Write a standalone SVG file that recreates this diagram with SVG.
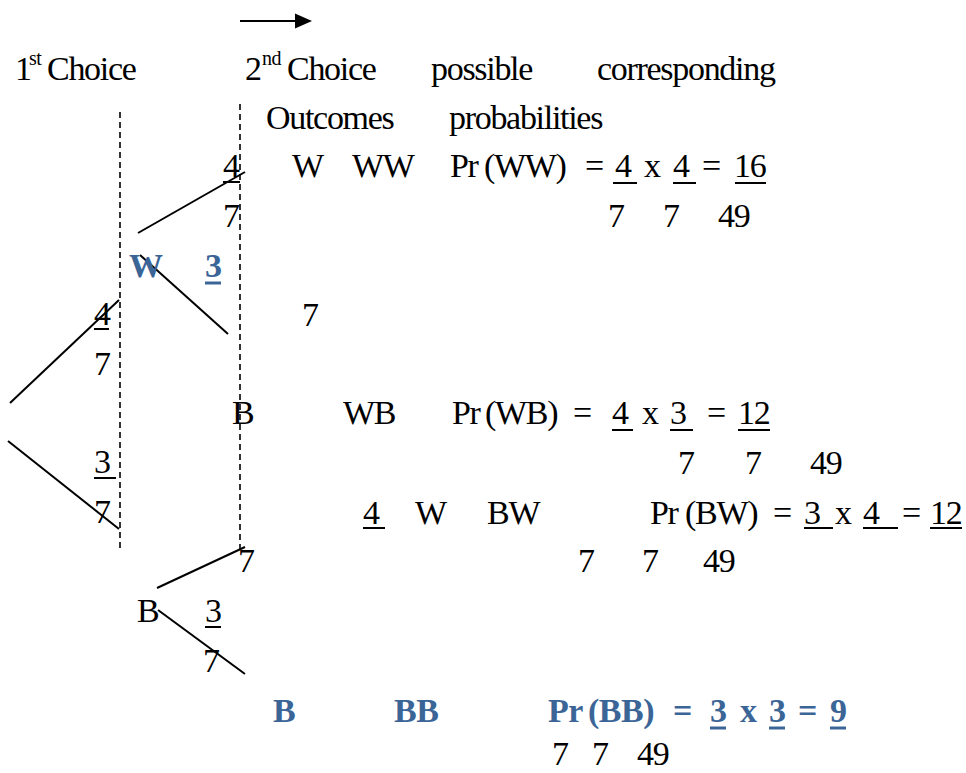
<svg xmlns="http://www.w3.org/2000/svg" width="966" height="773" viewBox="0 0 966 773">
<style>
text{font-family:"Liberation Serif","Tinos","DejaVu Serif","Times New Roman",serif;font-size:34px;letter-spacing:-1.3px;fill:#000}
.sup{font-size:20px;letter-spacing:-0.5px}
.b{font-weight:bold;fill:#3b6597;letter-spacing:-0.5px}
.ul{stroke:#000;stroke-width:2}
.ulb{stroke:#3b6597;stroke-width:3}
.br{stroke:#000;stroke-width:2;fill:none}
.dash{stroke:#000;stroke-width:1.6;stroke-dasharray:6 4;fill:none}
</style>
<rect width="966" height="773" fill="#fff"/>

<g id="headers">
<line x1="240" y1="21" x2="296" y2="21" stroke="#000" stroke-width="2"/>
<polygon points="295,13.5 312,21 295,28.5" fill="#000"/>
<text x="15" y="80">1</text><text class="sup" x="29" y="65">st</text><text x="47" y="80">Choice</text>
<text x="245" y="80">2</text><text class="sup" x="262" y="65">nd</text><text x="287" y="80">Choice</text>
<text x="431" y="80">possible</text>
<text x="597" y="80">corresponding</text>
<text x="266" y="129">Outcomes</text>
<text x="449" y="129">probabilities</text>
</g>

<g id="connectors">
<line class="dash" x1="120" y1="112" x2="120" y2="552"/>
<line class="dash" x1="240" y1="104" x2="240" y2="552"/>
<line class="br" x1="10" y1="403" x2="119" y2="300"/>
<line class="br" x1="8" y1="441" x2="119" y2="529"/>
<line class="br" x1="138" y1="233" x2="245" y2="172"/>
<line class="br" x1="140" y1="255" x2="228" y2="334"/>
<line class="br" x1="157" y1="588" x2="245" y2="547"/>
<line class="br" x1="158" y1="610" x2="245" y2="674"/>
</g>

<g id="first-branch-probs">
<text x="94" y="325">4</text><line class="ul" x1="94" y1="329" x2="109" y2="329"/>
<text x="94" y="375">7</text>
<text x="94" y="473">3</text><line class="ul" x1="94" y1="478" x2="116" y2="478"/>
<text x="94" y="523">7</text>
</g>

<g id="node-W1">
<text class="b" x="129" y="277">W</text>
<text class="b" x="205" y="277">3</text><line class="ulb" x1="205" y1="283" x2="221" y2="283"/>
<text x="302" y="326">7</text>
</g>

<g id="node-B1">
<text x="137" y="622">B</text>
<text x="205" y="622">3</text><line class="ul" x1="205" y1="627" x2="221" y2="627"/>
<text x="203" y="672">7</text>
</g>

<g id="outcome-WW">
<text x="223" y="177">4</text><line class="ul" x1="223" y1="182" x2="240" y2="182"/>
<text x="223" y="227">7</text>
<text x="292" y="177">W</text>
<text x="352" y="177">WW</text>
<text x="450" y="177">Pr</text><text x="484" y="177">(WW)</text>
<text x="585" y="177">=</text>
<text x="615" y="177">4</text><line class="ul" x1="613" y1="183" x2="637" y2="183"/>
<text x="644" y="177">x</text>
<text x="673" y="177">4</text><line class="ul" x1="673" y1="183" x2="696" y2="183"/>
<text x="702" y="177">=</text>
<text x="734" y="177">16</text><line class="ul" x1="735" y1="183" x2="766" y2="183"/>
<text x="608" y="227">7</text><text x="663" y="227">7</text><text x="718" y="227">49</text>
</g>

<g id="outcome-WB">
<text x="232" y="424">B</text>
<text x="343" y="424">WB</text>
<text x="452" y="424">Pr</text><text x="485" y="424">(WB)</text>
<text x="573" y="424">=</text>
<text x="612" y="424">4</text><line class="ul" x1="612" y1="430" x2="633" y2="430"/>
<text x="642" y="424">x</text>
<text x="670" y="424">3</text><line class="ul" x1="670" y1="430" x2="693" y2="430"/>
<text x="707" y="424">=</text>
<text x="738" y="424">12</text><line class="ul" x1="738" y1="430" x2="770" y2="430"/>
<text x="678" y="474">7</text><text x="745" y="474">7</text><text x="810" y="474">49</text>
</g>

<g id="outcome-BW">
<text x="363" y="524">4</text><line class="ul" x1="363" y1="528" x2="385" y2="528"/>
<text x="238" y="572">7</text>
<text x="415" y="524">W</text>
<text x="487" y="524">BW</text>
<text x="650" y="524">Pr</text><text x="685" y="524">(BW)</text>
<text x="773" y="524">=</text>
<text x="804" y="524">3</text><line class="ul" x1="804" y1="528" x2="833" y2="528"/>
<text x="835" y="524">x</text>
<text x="863" y="524">4</text><line class="ul" x1="863" y1="528" x2="898" y2="528"/>
<text x="902" y="524">=</text>
<text x="930" y="524">12</text><line class="ul" x1="930" y1="528" x2="962" y2="528"/>
<text x="578" y="572">7</text><text x="642" y="572">7</text><text x="703" y="572">49</text>
</g>

<g id="outcome-BB">
<text class="b" x="273" y="722">B</text>
<text class="b" x="394" y="722">BB</text>
<text class="b" x="548" y="722">Pr</text><text class="b" x="588" y="722">(BB)</text>
<text class="b" x="673" y="722">=</text>
<text class="b" x="710" y="722">3</text><line class="ulb" x1="710" y1="728" x2="726" y2="728"/>
<text class="b" x="740" y="722">x</text>
<text class="b" x="769" y="722">3</text><line class="ulb" x1="769" y1="728" x2="785" y2="728"/>
<text class="b" x="798" y="722">=</text>
<text class="b" x="830" y="722">9</text><line class="ulb" x1="830" y1="728" x2="846" y2="728"/>
<text x="552" y="765">7</text><text x="592" y="765">7</text><text x="637" y="765">49</text>
</g>
</svg>
